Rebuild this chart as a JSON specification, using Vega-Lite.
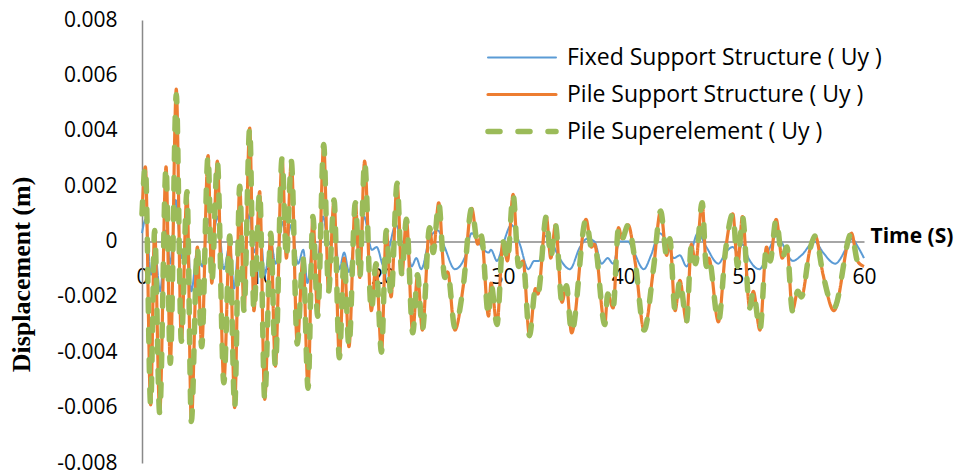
{
  "$schema": "https://vega.github.io/schema/vega-lite/v6.json",
  "width": 722,
  "height": 443,
  "autosize": {"type": "none"},
  "padding": {"left": 142, "top": 20, "right": 96, "bottom": 12},
  "background": "white",
  "config": {"view": {"stroke": null}, "font": "Open Sans"},
  "datasets": {
    "fixed": [
      {"t":0,"v":0.0003},{"t":0.3,"v":0.0008},{"t":0.75,"v":-0.0012},{"t":1.05,"v":-0.0002},{"t":1.5,"v":-0.0018},{"t":2.0,"v":0.0004},{"t":2.35,"v":-0.0008},{"t":2.8,"v":0.0015},{"t":3.3,"v":-0.0006},{"t":3.75,"v":0.0004},{"t":4.1,"v":-0.0018},{"t":4.6,"v":-0.0003},{"t":5.0,"v":-0.0009},{"t":5.5,"v":0.0008},{"t":5.8,"v":0.0001},{"t":6.3,"v":0.0009},{"t":6.8,"v":-0.001},{"t":7.3,"v":-0.0001},{"t":7.65,"v":-0.0017},{"t":8.1,"v":0.0002},{"t":8.5,"v":-0.0004},{"t":8.95,"v":0.001},{"t":9.3,"v":-0.0004},{"t":9.8,"v":0.0005},{"t":10.2,"v":-0.0012},{"t":10.7,"v":0.0},{"t":11.1,"v":-0.0008},{"t":11.7,"v":0.0007},{"t":12.0,"v":0.0},{"t":12.4,"v":0.0006},{"t":12.97,"v":-0.0008},{"t":13.4,"v":-0.0003},{"t":13.75,"v":-0.0015},{"t":14.2,"v":-0.0001},{"t":14.6,"v":-0.0006},{"t":15.05,"v":0.0009},{"t":15.5,"v":-0.0001},{"t":16.0,"v":0.0002},{"t":16.4,"v":-0.001},{"t":16.8,"v":-0.0004},{"t":17.2,"v":-0.0011},{"t":17.7,"v":0.0},{"t":18.1,"v":-0.0002},{"t":18.45,"v":0.0009},{"t":19.1,"v":-0.0003},{"t":19.5,"v":-0.0002},{"t":20.1,"v":-0.0009},{"t":20.5,"v":-0.0003},{"t":21.1,"v":0.0006},{"t":21.6,"v":0.0},{"t":22.0,"v":-0.0001},{"t":22.4,"v":-0.0009},{"t":22.8,"v":-0.0006},{"t":23.2,"v":-0.001},{"t":23.9,"v":0.0001},{"t":24.6,"v":0.0004},{"t":25.15,"v":-0.0002},{"t":26.0,"v":-0.001},{"t":26.8,"v":-0.0006},{"t":27.4,"v":0.0003},{"t":27.9,"v":0.0},{"t":28.8,"v":-0.0004},{"t":29.0,"v":-0.0003},{"t":29.5,"v":-0.0007},{"t":30.0,"v":-0.0001},{"t":30.7,"v":0.0006},{"t":31.4,"v":-0.0001},{"t":32.1,"v":-0.001},{"t":32.6,"v":-0.0007},{"t":33.0,"v":-0.0007},{"t":33.5,"v":0.0002},{"t":34.0,"v":0.0},{"t":34.7,"v":-0.0006},{"t":35.55,"v":-0.001},{"t":36.4,"v":-0.0002},{"t":37.0,"v":0.0001},{"t":37.6,"v":0.0},{"t":38.2,"v":-0.0008},{"t":38.7,"v":-0.0006},{"t":39.15,"v":-0.0008},{"t":39.7,"v":0.0},{"t":40.4,"v":0.0},{"t":40.8,"v":-0.0003},{"t":41.7,"v":-0.001},{"t":42.3,"v":-0.0005},{"t":43.0,"v":0.0003},{"t":43.6,"v":0.0},{"t":44.2,"v":-0.0006},{"t":44.7,"v":-0.0005},{"t":45.25,"v":-0.0009},{"t":46.2,"v":0.0003},{"t":46.9,"v":-0.0002},{"t":47.9,"v":-0.0008},{"t":48.5,"v":-0.0004},{"t":49.1,"v":-0.0002},{"t":49.5,"v":-0.0004},{"t":49.9,"v":-0.0001},{"t":50.4,"v":-0.0006},{"t":51.3,"v":-0.001},{"t":52.2,"v":-0.0002},{"t":52.7,"v":0.0002},{"t":53.1,"v":0.0},{"t":54.1,"v":-0.0007},{"t":54.8,"v":-0.0005},{"t":55.9,"v":0.0},{"t":56.6,"v":-0.0004},{"t":57.6,"v":-0.0008},{"t":58.7,"v":-0.0001},{"t":59.0,"v":0.0001},{"t":59.5,"v":-0.0002},{"t":60.0,"v":-0.0006}
    ],
    "pile": [
      {"t":0,"v":0.001},{"t":0.28,"v":0.0027},{"t":0.72,"v":-0.0059},{"t":1.05,"v":0.0004},{"t":1.47,"v":-0.0062},{"t":2.0,"v":0.0027},{"t":2.35,"v":-0.0044},{"t":2.85,"v":0.0055},{"t":3.27,"v":-0.0036},{"t":3.74,"v":0.0018},{"t":4.1,"v":-0.0065},{"t":4.6,"v":-0.0002},{"t":4.96,"v":-0.0038},{"t":5.49,"v":0.0031},{"t":5.8,"v":-0.0015},{"t":6.26,"v":0.0029},{"t":6.8,"v":-0.0051},{"t":7.29,"v":0.0002},{"t":7.7,"v":-0.006},{"t":8.12,"v":0.002},{"t":8.48,"v":-0.0025},{"t":8.95,"v":0.0041},{"t":9.3,"v":-0.0025},{"t":9.78,"v":0.0018},{"t":10.2,"v":-0.0057},{"t":10.7,"v":0.0003},{"t":11.08,"v":-0.0045},{"t":11.64,"v":0.003},{"t":12.0,"v":-0.0006},{"t":12.41,"v":0.0029},{"t":12.9,"v":-0.0037},{"t":13.38,"v":-0.0006},{"t":13.8,"v":-0.0053},{"t":14.2,"v":0.0009},{"t":14.6,"v":-0.0027},{"t":15.1,"v":0.0035},{"t":15.5,"v":-0.0018},{"t":15.96,"v":0.0015},{"t":16.4,"v":-0.0042},{"t":16.8,"v":-0.0006},{"t":17.2,"v":-0.0038},{"t":17.73,"v":0.0014},{"t":18.1,"v":-0.0013},{"t":18.5,"v":0.0029},{"t":19.06,"v":-0.0025},{"t":19.45,"v":-0.0008},{"t":19.9,"v":-0.004},{"t":20.3,"v":0.0004},{"t":20.7,"v":-0.002},{"t":21.2,"v":0.0021},{"t":21.6,"v":-0.0012},{"t":21.97,"v":0.0008},{"t":22.5,"v":-0.0033},{"t":22.9,"v":-0.0012},{"t":23.3,"v":-0.0032},{"t":23.9,"v":0.0005},{"t":24.2,"v":-0.0004},{"t":24.66,"v":0.0014},{"t":25.16,"v":-0.0013},{"t":25.4,"v":-0.0011},{"t":26.0,"v":-0.0032},{"t":26.7,"v":-0.0016},{"t":27.4,"v":0.0012},{"t":27.9,"v":-0.0001},{"t":28.2,"v":0.0002},{"t":28.8,"v":-0.0027},{"t":29.0,"v":-0.0015},{"t":29.5,"v":-0.003},{"t":30.0,"v":0.0},{"t":30.37,"v":-0.0007},{"t":30.84,"v":0.0017},{"t":31.3,"v":-0.0009},{"t":31.67,"v":-0.0007},{"t":32.2,"v":-0.0034},{"t":32.7,"v":-0.0017},{"t":32.9,"v":-0.0019},{"t":33.6,"v":0.0009},{"t":33.97,"v":-0.0006},{"t":34.36,"v":0.0006},{"t":34.9,"v":-0.0022},{"t":35.27,"v":-0.0016},{"t":35.7,"v":-0.0033},{"t":36.9,"v":0.0008},{"t":37.35,"v":-0.0002},{"t":37.6,"v":-0.0001},{"t":38.46,"v":-0.003},{"t":38.7,"v":-0.0019},{"t":39.15,"v":-0.0024},{"t":39.6,"v":0.0005},{"t":39.9,"v":0.0001},{"t":40.4,"v":0.0006},{"t":41.0,"v":-0.0008},{"t":41.73,"v":-0.0032},{"t":42.5,"v":-0.001},{"t":43.1,"v":0.0011},{"t":43.6,"v":-0.0005},{"t":43.86,"v":0.0001},{"t":44.3,"v":-0.0025},{"t":44.7,"v":-0.0014},{"t":45.25,"v":-0.0029},{"t":45.66,"v":-0.0001},{"t":46.0,"v":-0.0008},{"t":46.55,"v":0.0014},{"t":46.9,"v":-0.0009},{"t":47.1,"v":-0.0006},{"t":47.9,"v":-0.0029},{"t":48.5,"v":-0.0003},{"t":49.1,"v":0.001},{"t":49.5,"v":-0.0009},{"t":49.9,"v":0.0009},{"t":50.5,"v":-0.0024},{"t":50.8,"v":-0.0018},{"t":51.35,"v":-0.0032},{"t":51.9,"v":-0.0002},{"t":52.2,"v":-0.0007},{"t":52.7,"v":0.0008},{"t":53.2,"v":-0.0006},{"t":53.6,"v":-0.0002},{"t":54.05,"v":-0.0025},{"t":54.5,"v":-0.0018},{"t":54.8,"v":-0.002},{"t":55.5,"v":-0.0003},{"t":55.95,"v":0.0002},{"t":56.6,"v":-0.0012},{"t":57.5,"v":-0.0025},{"t":58.96,"v":0.0003},{"t":59.45,"v":-0.0007},{"t":60.0,"v":-0.0009}
    ],
    "superel": [
      {"t":0,"v":0.001},{"t":0.28,"v":0.0027},{"t":0.72,"v":-0.0059},{"t":1.05,"v":0.0004},{"t":1.47,"v":-0.0062},{"t":2.0,"v":0.0027},{"t":2.35,"v":-0.0044},{"t":2.85,"v":0.0053},{"t":3.27,"v":-0.0036},{"t":3.74,"v":0.0018},{"t":4.1,"v":-0.0065},{"t":4.6,"v":-0.0002},{"t":4.96,"v":-0.0038},{"t":5.49,"v":0.0031},{"t":5.8,"v":-0.0015},{"t":6.26,"v":0.0029},{"t":6.8,"v":-0.0051},{"t":7.29,"v":0.0002},{"t":7.7,"v":-0.006},{"t":8.12,"v":0.002},{"t":8.48,"v":-0.0025},{"t":8.95,"v":0.0041},{"t":9.3,"v":-0.0025},{"t":9.78,"v":0.0018},{"t":10.2,"v":-0.0057},{"t":10.7,"v":0.0003},{"t":11.08,"v":-0.0045},{"t":11.64,"v":0.003},{"t":12.0,"v":-0.0006},{"t":12.41,"v":0.0029},{"t":12.9,"v":-0.0037},{"t":13.38,"v":-0.0006},{"t":13.8,"v":-0.0053},{"t":14.2,"v":0.0009},{"t":14.6,"v":-0.0027},{"t":15.1,"v":0.0035},{"t":15.5,"v":-0.0018},{"t":15.96,"v":0.0015},{"t":16.4,"v":-0.0042},{"t":16.8,"v":-0.0006},{"t":17.2,"v":-0.0038},{"t":17.73,"v":0.0014},{"t":18.1,"v":-0.0013},{"t":18.5,"v":0.0029},{"t":19.06,"v":-0.0025},{"t":19.45,"v":-0.0008},{"t":19.9,"v":-0.004},{"t":20.3,"v":0.0004},{"t":20.7,"v":-0.002},{"t":21.2,"v":0.0021},{"t":21.6,"v":-0.0012},{"t":21.97,"v":0.0008},{"t":22.5,"v":-0.0033},{"t":22.9,"v":-0.0012},{"t":23.3,"v":-0.0032},{"t":23.9,"v":0.0005},{"t":24.2,"v":-0.0004},{"t":24.66,"v":0.0014},{"t":25.16,"v":-0.0013},{"t":25.4,"v":-0.0011},{"t":26.0,"v":-0.0031},{"t":26.7,"v":-0.0016},{"t":27.4,"v":0.0012},{"t":27.9,"v":-0.0001},{"t":28.2,"v":0.0002},{"t":28.8,"v":-0.0027},{"t":29.0,"v":-0.0015},{"t":29.5,"v":-0.003},{"t":30.0,"v":0.0},{"t":30.37,"v":-0.0007},{"t":30.84,"v":0.0017},{"t":31.3,"v":-0.0009},{"t":31.67,"v":-0.0007},{"t":32.2,"v":-0.0034},{"t":32.7,"v":-0.0017},{"t":32.9,"v":-0.0019},{"t":33.6,"v":0.0009},{"t":33.97,"v":-0.0006},{"t":34.36,"v":0.0006},{"t":34.9,"v":-0.0022},{"t":35.27,"v":-0.0016},{"t":35.7,"v":-0.0033},{"t":36.9,"v":0.0008},{"t":37.35,"v":-0.0002},{"t":37.6,"v":-0.0001},{"t":38.46,"v":-0.003},{"t":38.7,"v":-0.0019},{"t":39.15,"v":-0.0024},{"t":39.6,"v":0.0005},{"t":39.9,"v":0.0001},{"t":40.4,"v":0.0006},{"t":41.0,"v":-0.0008},{"t":41.73,"v":-0.0032},{"t":42.5,"v":-0.001},{"t":43.1,"v":0.0011},{"t":43.6,"v":-0.0005},{"t":43.86,"v":0.0001},{"t":44.3,"v":-0.0025},{"t":44.7,"v":-0.0014},{"t":45.25,"v":-0.0029},{"t":45.66,"v":-0.0001},{"t":46.0,"v":-0.0008},{"t":46.55,"v":0.0014},{"t":46.9,"v":-0.0009},{"t":47.1,"v":-0.0006},{"t":47.9,"v":-0.0029},{"t":48.5,"v":-0.0003},{"t":49.1,"v":0.001},{"t":49.5,"v":-0.0009},{"t":49.9,"v":0.0009},{"t":50.5,"v":-0.0024},{"t":50.8,"v":-0.0018},{"t":51.35,"v":-0.0032},{"t":51.9,"v":-0.0002},{"t":52.2,"v":-0.0007},{"t":52.7,"v":0.0008},{"t":53.2,"v":-0.0006},{"t":53.6,"v":-0.0002},{"t":54.05,"v":-0.0025},{"t":54.5,"v":-0.0018},{"t":54.8,"v":-0.002},{"t":55.5,"v":-0.0003},{"t":55.95,"v":0.0002},{"t":56.6,"v":-0.0012},{"t":57.5,"v":-0.0024},{"t":58.96,"v":0.0003},{"t":59.45,"v":-0.0007},{"t":60.0,"v":-0.0009}
    ]
  },
  "encoding": {
    "x": {
      "field": "t", "type": "quantitative",
      "scale": {"domain": [0, 60], "nice": false},
      "axis": {
        "values": [0, 10, 20, 30, 40, 50, 60],
        "offset": -221.5,
        "grid": false, "ticks": false, "tickSize": 0,
        "domainColor": "#898989", "domainWidth": 1.5,
        "labelFont": "Open Sans", "labelFontSize": 21, "labelColor": "#000000",
        "labelBaseline": "middle", "labelPadding": 36, "labelFlush": false, "labelOverlap": false,
        "title": "Time (S)", "titleFont": "Open Sans", "titleFontSize": 21, "titleFontWeight": "bold",
        "titleColor": "#000000", "titleX": 728, "titleY": -5, "titleAlign": "left",
        "titleBaseline": "middle", "titleAngle": 0
      }
    },
    "y": {
      "field": "v", "type": "quantitative",
      "scale": {"domain": [-0.008, 0.008], "nice": false, "zero": false},
      "axis": {
        "values": [-0.008, -0.006, -0.004, -0.002, 0, 0.002, 0.004, 0.006, 0.008],
        "labelExpr": "datum.value == 0 ? '0' : replace(format(datum.value, '.3f'), '\u2212', '-')",
        "grid": false, "ticks": false, "tickSize": 0,
        "domainColor": "#898989", "domainWidth": 1.5,
        "labelFont": "Open Sans", "labelFontSize": 21, "labelColor": "#000000",
        "labelPadding": 25, "labelOverlap": false,
        "title": "Displacement (m)", "titleFont": "Liberation Serif", "titleFontSize": 26,
        "titleFontWeight": "bold", "titleColor": "#000000",
        "titleX": -121, "titleY": 254, "titleAlign": "center", "titleBaseline": "middle", "titleAngle": -90
      }
    },
    "color": {
      "field": "series", "type": "nominal",
      "scale": {
        "domain": ["Fixed Support Structure ( Uy )", "Pile Support Structure ( Uy )", "Pile Superelement ( Uy )"],
        "range": ["#5B9BD5", "#ED7D31", "#9BBB59"]
      },
      "legend": {
        "title": null, "orient": "none", "legendX": 343, "legendY": 19,
        "symbolType": "stroke", "symbolSize": 4624, "padding": 0,
        "labelFont": "Open Sans", "labelFontSize": 23, "labelColor": "#000000",
        "labelOffset": 8, "rowPadding": 0, "clipHeight": 37,
        "labelLimit": 400,
        "symbolStrokeWidth": 4,
        "encode": {
          "symbols": {
            "update": {
              "strokeDash": {"signal": "datum.value === 'Pile Superelement ( Uy )' ? [13, 17] : [1, 0]"},
              "strokeWidth": {"signal": "datum.value === 'Pile Superelement ( Uy )' ? 4 : (datum.value === 'Pile Support Structure ( Uy )' ? 3 : 2)"},
              "strokeCap": {"value": "round"}
            }
          }
        }
      }
    },
    "strokeDash": {
      "field": "series", "type": "nominal",
      "scale": {
        "domain": ["Fixed Support Structure ( Uy )", "Pile Support Structure ( Uy )", "Pile Superelement ( Uy )"],
        "range": [[1, 0], [1, 0], [12, 18]]
      },
      "legend": null
    },
    "strokeWidth": {
      "field": "series", "type": "ordinal",
      "scale": {
        "type": "ordinal",
        "domain": ["Fixed Support Structure ( Uy )", "Pile Support Structure ( Uy )", "Pile Superelement ( Uy )"],
        "range": [2, 3.2, 5.5]
      },
      "legend": null
    }
  },
  "layer": [
    {
      "data": {"name": "fixed"},
      "transform": [{"calculate": "'Fixed Support Structure ( Uy )'", "as": "series"}],
      "mark": {"type": "line", "interpolate": "monotone"}
    },
    {
      "data": {"name": "pile"},
      "transform": [{"calculate": "'Pile Support Structure ( Uy )'", "as": "series"}],
      "mark": {"type": "line", "interpolate": "monotone"}
    },
    {
      "data": {"name": "superel"},
      "transform": [{"calculate": "'Pile Superelement ( Uy )'", "as": "series"}],
      "mark": {"type": "line", "interpolate": "monotone", "strokeCap": "round"}
    }
  ]
}
